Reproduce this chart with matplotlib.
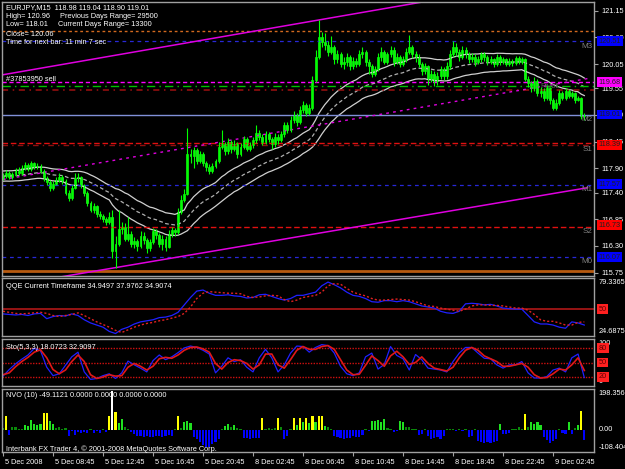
import numpy as np
import pandas as pd
import matplotlib
matplotlib.use('Agg')
import matplotlib.pyplot as plt
from matplotlib import transforms

plt.rcParams['font.family'] = ['Liberation Sans', 'DejaVu Sans']

# ---- price data (EURJPY M15) ----
first_open = 117.70
close = [
    117.74, 117.80, 117.72, 117.78, 117.85, 117.80, 117.90, 117.96, 117.88, 118.00,
    117.92, 117.95, 117.85, 117.70, 117.62, 117.50, 117.58, 117.66, 117.72, 117.64,
    117.40, 117.28, 117.50, 117.70, 117.72, 117.55, 117.40, 117.18, 117.05, 117.12,
    116.95, 116.92, 116.85, 116.80, 116.90, 116.20, 116.35, 116.65, 116.70, 116.45,
    116.55, 116.35, 116.40, 116.30, 116.50, 116.42, 116.25, 116.38, 116.60, 116.52,
    116.35, 116.45, 116.28, 116.55, 116.62, 116.58, 117.00, 117.25, 117.38, 118.20,
    118.15, 118.28, 118.05, 118.20, 118.02, 117.92, 117.85, 117.95, 118.05, 118.35,
    118.40, 118.25, 118.45, 118.30, 118.40, 118.20, 118.35, 118.50, 118.30, 118.38,
    118.48, 118.62, 118.55, 118.45, 118.60, 118.50, 118.40, 118.55, 118.48, 118.60,
    118.80, 118.70, 118.90, 119.00, 118.85, 119.10, 119.20, 119.05, 119.15, 119.72,
    120.20, 120.60, 120.50, 120.45, 120.30, 120.40, 120.15, 120.25, 120.05, 120.10,
    120.20, 120.00, 120.12, 120.05, 120.25, 120.30, 120.10, 120.00, 119.85, 119.95,
    120.20, 120.30, 120.10, 120.25, 120.35, 120.10, 120.20, 120.05, 120.15, 120.30,
    120.40, 120.25, 120.20, 120.05, 119.90, 120.00, 119.75, 119.85, 119.70, 119.80,
    119.95, 119.80, 120.00, 120.25, 120.40, 120.30, 120.20, 120.35, 120.25, 120.15,
    120.20, 120.10, 120.15, 120.25, 120.20, 120.10, 120.15, 120.05, 120.20, 120.10,
    120.15, 120.05, 120.12, 120.08, 120.18, 120.10, 120.15, 119.75, 119.65, 119.55,
    119.70, 119.45, 119.50, 119.35, 119.55, 119.30, 119.15, 119.25, 119.45, 119.35,
    119.50, 119.40, 119.45, 119.30, 119.35, 118.98, 119.01]
high = [
    117.80, 117.86, 117.84, 117.83, 117.90, 117.92, 117.96, 118.04, 118.00, 118.06,
    118.04, 118.02, 117.98, 117.88, 117.75, 117.66, 117.63, 117.72, 117.80, 117.76,
    117.67, 117.45, 117.55, 117.80, 117.80, 117.75, 117.58, 117.44, 117.22, 117.18,
    117.15, 117.02, 116.96, 116.90, 117.00, 117.05, 116.50, 117.05, 116.80, 116.78,
    116.90, 116.60, 116.48, 116.45, 116.60, 116.58, 116.46, 116.45, 116.68, 116.65,
    116.56, 116.52, 116.50, 116.62, 116.70, 116.68, 117.08, 117.35, 117.48, 118.73,
    118.30, 118.35, 118.32, 118.26, 118.24, 118.06, 117.98, 118.00, 118.10, 118.45,
    118.70, 118.45, 118.52, 118.48, 118.48, 118.44, 118.42, 118.56, 118.54, 118.45,
    118.55, 118.80, 118.70, 118.60, 118.66, 118.64, 118.55, 118.62, 118.60, 118.68,
    118.86, 118.85, 118.98, 119.08, 119.04, 119.18, 119.28, 119.25, 119.22, 119.80,
    120.35, 120.96, 120.72, 120.70, 120.52, 120.62, 120.45, 120.35, 120.30, 120.20,
    120.28, 120.24, 120.20, 120.18, 120.35, 120.40, 120.34, 120.15, 120.05, 120.02,
    120.28, 120.40, 120.35, 120.30, 120.42, 120.40, 120.28, 120.24, 120.22, 120.38,
    120.65, 120.45, 120.32, 120.25, 120.10, 120.08, 120.04, 119.92, 119.90, 119.88,
    120.02, 119.98, 120.10, 120.35, 120.52, 120.48, 120.36, 120.42, 120.40, 120.30,
    120.28, 120.25, 120.22, 120.30, 120.30, 120.24, 120.22, 120.18, 120.26, 120.24,
    120.20, 120.18, 120.18, 120.16, 120.22, 120.22, 120.20, 120.18, 119.80, 119.70,
    119.78, 119.74, 119.58, 119.55, 119.62, 119.58, 119.35, 119.32, 119.52, 119.50,
    119.55, 119.54, 119.50, 119.48, 119.40, 119.38, 119.04]
low = [
    117.66, 117.70, 117.68, 117.69, 117.74, 117.76, 117.77, 117.86, 117.84, 117.85,
    117.88, 117.88, 117.80, 117.64, 117.55, 117.44, 117.46, 117.55, 117.62, 117.58,
    117.35, 117.22, 117.25, 117.47, 117.62, 117.50, 117.32, 117.12, 117.00, 116.98,
    116.90, 116.86, 116.80, 116.74, 116.76, 116.05, 115.85, 116.30, 116.55, 116.40,
    116.40, 116.28, 116.25, 116.20, 116.25, 116.35, 116.15, 116.20, 116.33, 116.45,
    116.28, 116.22, 116.20, 116.25, 116.48, 116.50, 116.55, 116.95, 117.20, 117.35,
    118.00, 117.90, 117.98, 118.00, 117.95, 117.85, 117.78, 117.80, 117.90, 118.00,
    118.30, 118.18, 118.20, 118.22, 118.25, 118.12, 118.15, 118.30, 118.25, 118.25,
    118.32, 118.42, 118.48, 118.38, 118.40, 118.44, 118.30, 118.35, 118.40, 118.44,
    118.55, 118.62, 118.65, 118.84, 118.78, 118.82, 119.05, 118.98, 119.00, 119.10,
    119.68, 120.15, 120.40, 120.35, 120.22, 120.25, 120.05, 120.08, 119.98, 119.95,
    120.02, 119.92, 119.95, 119.98, 120.00, 120.18, 120.02, 119.85, 119.78, 119.80,
    119.90, 120.12, 120.05, 120.05, 120.20, 120.02, 120.05, 119.98, 120.00, 120.10,
    120.25, 120.18, 120.10, 119.98, 119.82, 119.85, 119.62, 119.68, 119.60, 119.62,
    119.75, 119.72, 119.75, 119.95, 120.20, 120.22, 120.12, 120.15, 120.18, 120.08,
    120.10, 120.02, 120.05, 120.10, 120.12, 120.04, 120.05, 119.98, 120.00, 120.04,
    120.05, 120.00, 120.00, 120.02, 120.04, 120.05, 120.05, 119.70, 119.58, 119.48,
    119.50, 119.40, 119.38, 119.28, 119.30, 119.22, 119.10, 119.10, 119.20, 119.30,
    119.30, 119.35, 119.35, 119.25, 119.28, 118.92, 118.90]

# horizontal levels on the price chart
prev_high_lvl = 120.74
m3_lvl, m2_lvl, m1_lvl, m0_lvl = 120.52, 119.01, 117.56, 116.07
order_lvl = 119.68
tp_lvl = 119.59
pivot_lvl = 119.51
s1_lvl, s1b_lvl, s2_lvl = 118.43, 118.39, 116.70
low_lvl = 115.79

# trend channel (price at first and last bar)
tl_upper = [119.83, 121.92]
tl_mid = [117.67, 119.75]
tl_lower = [115.46, 117.50]

price_ticks = [121.15, 120.60, 120.05, 119.55, 119.00, 118.45, 117.90, 117.40, 116.85, 116.30, 115.75]
box_prices = [120.52, 119.68, 119.01, 118.39, 117.57, 116.73, 116.07]
box_texts = ['120.51', '119.68', '119.01', '118.39', '117.57', '116.73', '116.07']
box_colors = ['#0000ff', '#ff00ff', '#0000ff', '#ff0000', '#0000ff', '#ff0000', '#0000ff']

# ---- indicators (sampled every 2 bars) ----
qqe_fast = [45.5, 45, 44.5, 45, 44, 45.5, 46, 41, 43, 44,
            43.5, 45.5, 44, 40, 37, 35, 33, 29, 27, 31,
            33, 36, 38, 39, 40, 42, 42.5, 44, 47, 54,
            61, 67, 68, 65, 63, 63, 63.5, 62.5, 62, 60.5,
            61, 63.5, 64, 62, 60, 58.5, 60, 63, 63, 64.5,
            66, 72, 75.5, 73, 70, 66, 63, 62, 60, 57,
            56.5, 58, 58, 57, 58, 57, 55, 53, 52, 51,
            48, 46.5, 46, 48, 55, 55.5, 55, 54, 54.5, 53,
            51, 50.5, 50, 50, 44, 38, 36, 36, 35, 33,
            32, 38, 37, 35]
qqe_slow = [48, 47, 46, 45.5, 46, 46.5, 47, 46, 44, 43,
            44, 45, 46.5, 44, 41, 38, 35.5, 33, 30, 28,
            30.5, 33, 35, 36.5, 37.5, 39, 40, 41.5, 43, 46,
            52, 60, 65, 66.5, 66, 65.5, 65, 65, 64.5, 62,
            61, 61.5, 62.5, 63, 62.5, 59, 57, 58.5, 61, 62,
            63, 66, 72, 74, 73.5, 69.5, 66, 64, 62.5, 60,
            58.5, 58.5, 59, 59.5, 59, 58.5, 57, 55, 53, 52.5,
            51, 50, 49, 48, 50, 53, 54, 54, 53.5, 53.5,
            53, 52, 51, 51, 49, 45, 40, 38.5, 38.5, 37,
            35, 35, 37.5, 38]
sto_k = [21, 35, 47, 57, 66, 80, 75, 40, 22, 26,
         44, 62, 72, 30, 14, 16, 22, 26, 16, 28,
         53, 45, 38, 30, 54, 66, 56, 62, 71, 81,
         85, 82, 76, 68, 28, 42, 60, 52, 56, 40,
         30, 60, 78, 60, 30, 45, 70, 85, 84, 72,
         82, 88, 86, 70, 42, 26, 22, 28, 62, 70,
         36, 46, 84, 65, 58, 34, 67, 56, 38, 36,
         34, 30, 52, 70, 82, 82, 70, 59, 58, 45,
         38, 45, 45, 52, 28, 17, 17, 20, 34, 38,
         30, 60, 68, 18]
sto_d = [24, 28, 41, 52, 61, 72, 77, 60, 35, 26,
         34, 52, 66, 52, 24, 16, 19, 24, 21, 22,
         40, 48, 42, 34, 42, 58, 61, 59, 66, 76,
         82, 83, 79, 72, 48, 36, 50, 56, 54, 48,
         36, 45, 68, 68, 45, 38, 56, 76, 84, 78,
         78, 84, 86, 78, 56, 34, 24, 25, 44, 64,
         54, 42, 64, 74, 62, 46, 50, 62, 48, 38,
         35, 32, 40, 60, 76, 82, 76, 64, 58, 52,
         42, 42, 45, 48, 40, 24, 17, 18, 26, 36,
         34, 45, 60, 33]

# NVO histogram, one value per bar
nvo = [10, 67, -24, 15, 14, 4, 6, 24, 20, 48,
       26, 22, 28, 83, 83, 43, 30, 10, 12, 6,
       8, -29, -8, -26, -12, -16, -10, -18, 4, -14,
       -6, -16, 5, -10, 67, 190, 86, 35, 51, 14,
       4, -10, -21, -30, -32, -35, -30, -33, -35, -31,
       -30, -34, -30, -28, -32, 4, 67, 8, 40, 43,
       35, -37, -45, -60, -75, -85, -85, -70, -60, -45,
       6, 18, 26, 15, 22, 8, 2, -40, -42, -45,
       -38, -42, -38, 59, 6, 10, 4, 8, 56, 12,
       -45, -30, 4, 59, 22, 56, 40, 59, 35, 67,
       38, 67, 67, 19, 12, 6, -29, -35, -40, -45,
       -38, -42, -30, -36, -33, -25, 3, -8, 43, 43,
       45, 40, 54, 10, 6, -10, -8, 43, 40, 15,
       12, 4, 6, -24, -20, 4, -29, -45, -40, -35,
       -45, -30, 5, 4, 3, -6, 4, -8, 3, -37,
       -30, 4, -55, -62, -66, -58, -66, -60, -54, 27,
       -20, -21, -14, 4, 6, 12, 4, 75, 12, 38,
       30, 40, 22, -37, -50, -64, -55, -45, 4, -14,
       -20, 38, -22, 8, 22, 91, -49]

time_labels = ['5 Dec 2008', '5 Dec 08:45', '5 Dec 12:45', '5 Dec 16:45', '5 Dec 20:45',
               '8 Dec 02:45', '8 Dec 06:45', '8 Dec 10:45', '8 Dec 14:45', '8 Dec 18:45',
               '8 Dec 22:45', '9 Dec 02:45']

# ---------------------------------------------------------------
W, H = 625, 469
fig = plt.figure(figsize=(W / 100, H / 100), dpi=100, facecolor='black')
FS = 5.3
GRAY = '#a0a0a0'


def px_axes(x0, y0, x1, y1):
    a = fig.add_axes([x0 / W, 1 - y1 / H, (x1 - x0) / W, (y1 - y0) / H])
    a.set_facecolor('black')
    for s in a.spines.values():
        s.set_color(GRAY)
        s.set_linewidth(1)
    a.set_xticks([])
    a.yaxis.tick_right()
    a.tick_params(axis='y', colors=GRAY, labelcolor='white', labelsize=FS, length=3, pad=2, width=0.8)
    return a


def right_label(a, y, txt, color='white', box=None):
    kw = dict(xy=(1, y), xycoords=('axes fraction', 'data'), xytext=(3.5, 0),
              textcoords='offset points', va='center', ha='left', fontsize=FS, color=color)
    if box:
        kw['bbox'] = dict(boxstyle='square,pad=0.2', fc=box, ec='none')
    a.annotate(txt, **kw, annotation_clip=False, zorder=10)


N = len(close)
idx = np.arange(N)
c = np.array(close)
o = np.r_[first_open, c[:-1]]
hi = np.array(high)
lo = np.array(low)
xlim = (-0.32, 189.1)

# ---- main price panel ----
ax = px_axes(2, 2, 594, 276)
ax.set_xlim(*xlim)
ax.set_ylim(115.68, 121.33)

# Keltner-style envelope: EMA 34 of close +/- 0.75 * EMA 34 of true range
prev_c = pd.Series(c).shift(1).fillna(first_open)
tr = np.maximum(hi, prev_c) - np.minimum(lo, prev_c)
mid = pd.Series(c).ewm(span=34, adjust=False).mean()
atr = pd.Series(tr).ewm(span=34, adjust=False).mean()
ax.plot(idx, mid + 0.75 * atr, color='#d0d0d0', lw=0.9)
ax.plot(idx, mid, color='#b0b0b0', lw=0.9, ls=(0, (3, 2)))
ax.plot(idx, mid - 0.75 * atr, color='#d0d0d0', lw=0.9)

# levels
ax.axhline(prev_high_lvl, color='#d2691e', lw=1, ls=(0, (2, 2)))
for lv in (m3_lvl, m1_lvl, m0_lvl):
    ax.axhline(lv, color='#2828d8', lw=0.9, ls=(0, (3, 3)))
ax.axhline(order_lvl, color='#ff00ff', lw=1, ls=(0, (3, 2)))
ax.axhline(tp_lvl, color='#00c000', lw=1, ls=(0, (6, 3, 1, 3)))
ax.axhline(pivot_lvl, color='#a01010', lw=1.1, ls=(0, (4, 3, 1, 3)))
ax.axhline(m2_lvl, color='#8090d8', lw=1)
ax.axhline(s1_lvl, color='#e01010', lw=1, ls=(0, (4, 2)))
ax.axhline(s1b_lvl, color='#901010', lw=1, ls=(0, (4, 3, 1, 3)))
ax.axhline(s2_lvl, color='#e01010', lw=1, ls=(0, (4, 2)))
ax.axhline(low_lvl, color='#b85a10', lw=2)

# channel
ends = [0, N]
ax.plot(ends, tl_upper, color='#e000e0', lw=1.1)
ax.plot(ends, tl_lower, color='#e000e0', lw=1.1)
ax.plot(ends, tl_mid, color='#e000e0', lw=1, ls=(0, (2, 3)))

# candles
up = c >= o
ax.vlines(idx, lo, hi, color='#00ff00', lw=0.8)
body_lo = np.minimum(o, c)
body_h = np.maximum(np.abs(c - o), 0.015)
ax.bar(idx[up], body_h[up], bottom=body_lo[up], width=0.62, color='#30e030',
       edgecolor='#00ff00', lw=0.5)
ax.bar(idx[~up], body_h[~up], bottom=body_lo[~up], width=0.62, color='#a8ffa8',
       edgecolor='#00ff00', lw=0.5)

ax.set_yticks(price_ticks)
ax.set_yticklabels([f'{v:.2f}' for v in price_ticks])
for p, t, col in zip(box_prices, box_texts, box_colors):
    right_label(ax, p, t, color='#202020', box=col)

lab_tr = transforms.blended_transform_factory(ax.transAxes, ax.transData)
for name, lv in [('M3', m3_lvl), ('M2', m2_lvl), ('S1', s1b_lvl), ('M1', m1_lvl),
                 ('S2', s2_lvl), ('M0', m0_lvl)]:
    ax.text(0.997, lv - 0.1, name, transform=lab_tr, ha='right', va='center',
            fontsize=FS + 0.5, color='#808080')
ax.text(0.94, pivot_lvl + 0.07, 'Pivot', transform=lab_tr, ha='right', va='center',
        fontsize=FS + 0.5, color='#606060')


def ftext(x, y, s, **kw):
    fig.text(x / W, 1 - y / H, s, va='center', ha='left', fontsize=FS, color='white', **kw)


ftext(6, 7.5, 'EURJPY,M15  118.98 119.04 118.90 119.01')
ftext(6, 16, 'High= 120.96')
ftext(60, 16, 'Previous Days Range= 29500')
ftext(6, 25, 'Low= 118.01')
ftext(58, 25, 'Current Days Range= 13300')
ftext(6, 34, 'Close= 120.06')
ftext(6, 43, 'Time for next bar: 11 min 7 sec')
ftext(6, 79.5, '#37853950 sell')

# ---- QQE panel ----
step = np.arange(0, N, 2)
aq = px_axes(2, 278, 594, 336)
aq.set_xlim(*xlim)
aq.set_ylim(24.6875, 79.3365)
aq.set_yticks([])
aq.axhline(50, color='#b01818', lw=1.2)
aq.plot(step, qqe_fast, color='#2020ff', lw=0.9)
aq.plot(step, qqe_slow, color='#e02020', lw=1, ls=(0, (1.5, 1.5)))
aq.annotate('79.3365', xy=(1, 1), xycoords='axes fraction', xytext=(3.5, -1), textcoords='offset points',
            va='top', ha='left', fontsize=FS, color='white', annotation_clip=False)
aq.annotate('24.6875', xy=(1, 0), xycoords='axes fraction', xytext=(3.5, 1), textcoords='offset points',
            va='bottom', ha='left', fontsize=FS, color='white', annotation_clip=False)
right_label(aq, 50, '50', color='#600000', box='#ff2020')
ftext(6, 286, 'QQE Current Timeframe 34.9497 37.9762 34.9074')

# ---- Stochastic panel ----
ast = px_axes(2, 339, 594, 386)
ast.set_xlim(*xlim)
ast.set_ylim(0, 100)
ast.set_yticks([])
for lv in (80, 50, 20):
    ast.axhline(lv, color='#d01010', lw=1, ls=(0, (1, 1)))
ast.plot(step, sto_k, color='#2020ff', lw=0.9)
ast.plot(step, sto_d, color='#e01818', lw=1.2)
ast.annotate('100', xy=(1, 1), xycoords='axes fraction', xytext=(3.5, -0.5), textcoords='offset points',
             va='top', ha='left', fontsize=FS, color='white', annotation_clip=False)
ast.annotate('0', xy=(1, 0), xycoords='axes fraction', xytext=(3.5, 0.5), textcoords='offset points',
             va='bottom', ha='left', fontsize=FS, color='white', annotation_clip=False)
for lv in (80, 50, 20):
    right_label(ast, lv, str(lv), color='#600000', box='#ff2020')
ftext(6, 347, 'Sto(5,3,3) 18.0723 32.9097')

# ---- NVO panel ----
an = px_axes(2, 389, 594, 452)
an.set_xlim(*xlim)
an.set_ylim(-108.404, 198.3562)
an.set_yticks([])
nv = np.array(nvo)
cols = np.where(nv >= 150, '#ffffff',
       np.where(nv >= 55, '#ffff00',
       np.where(nv >= 18, '#20e020',
       np.where(nv > 0, '#0a8a0a', '#0000ff'))))
an.bar(idx, nv, width=0.7, color=cols)
an.annotate('198.3562', xy=(1, 1), xycoords='axes fraction', xytext=(3.5, -1), textcoords='offset points',
            va='top', ha='left', fontsize=FS, color='white', annotation_clip=False)
right_label(an, 0, '0.00')
an.annotate('-108.404', xy=(1, 0), xycoords='axes fraction', xytext=(3.5, 1), textcoords='offset points',
            va='bottom', ha='left', fontsize=FS, color='white', annotation_clip=False)
ftext(6, 395, 'NVO (10) -49.1121 0.0000 0.0000 0.0000 0.0000')
ftext(6, 449, 'Interbank FX Trader 4, \u00a9 2001-2008 MetaQuotes Software Corp.')

# time axis
tick_bars = np.arange(0, 16 * len(time_labels), 16)
an.set_xticks(tick_bars)
an.tick_params(axis='x', colors=GRAY, length=3, width=0.8, labelbottom=False)
for b, t in zip(tick_bars, time_labels):
    an.annotate(t, xy=(b, 0), xycoords=('data', 'axes fraction'), xytext=(1.5, -7.5),
                textcoords='offset points', ha='left', va='center', fontsize=FS,
                color='white', annotation_clip=False)

fig.savefig('out.png', dpi=100, facecolor='black')
